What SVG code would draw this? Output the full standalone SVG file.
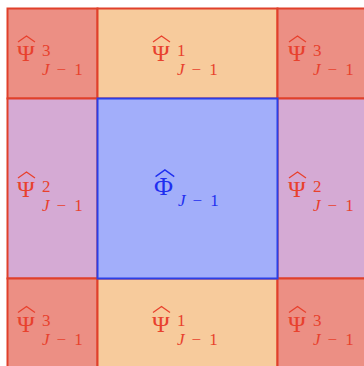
<svg xmlns="http://www.w3.org/2000/svg" width="364" height="366" viewBox="0 0 364 366">
<style>
rect{stroke-width:2}
.red{fill:#ec8f84;stroke:#e0402b}
.org{fill:#f7cb9c;stroke:#e0402b}
.pur{fill:#d5aad4;stroke:#e0402b}
.blu{fill:#a2aefa;stroke:#2b3fe6}
text{font-family:"Liberation Serif","DejaVu Serif",serif;font-size:17px}
.r{fill:#e8412d}
.b{fill:#1f2ff0}
.big{font-size:24px}
.phi{font-size:26px}
.it{font-style:italic}
.hr{fill:none;stroke:#e8412d;stroke-width:1.3;stroke-linejoin:miter}
.hb{fill:none;stroke:#1f2ff0;stroke-width:1.3;stroke-linejoin:miter}
</style>
<defs>
<polyline id="hat" points="0,6 8.5,0 17,6"/>
</defs>
<rect width="364" height="366" fill="#ffffff"/>
<g id="cell-top-left">
<rect class="red" x="7.5" y="8.5" width="90" height="90"/>
<text class="r big" x="17" y="61">Ψ</text>
<use href="#hat" class="hr" x="18" y="36"/>
<text class="r" x="42" y="55.5">3</text>
<text class="r" x="42" y="74.5"><tspan class="it">J</tspan><tspan dx="7">−</tspan><tspan dx="8">1</tspan></text>
</g>
<g id="cell-top-middle">
<rect class="org" x="97.5" y="8.5" width="180" height="90"/>
<text class="r big" x="152" y="61">Ψ</text>
<use href="#hat" class="hr" x="153" y="36"/>
<text class="r" x="177" y="55.5">1</text>
<text class="r" x="177" y="74.5"><tspan class="it">J</tspan><tspan dx="7">−</tspan><tspan dx="8">1</tspan></text>
</g>
<g id="cell-top-right">
<rect class="red" x="277.5" y="8.5" width="90" height="90"/>
<text class="r big" x="288" y="61">Ψ</text>
<use href="#hat" class="hr" x="289" y="36"/>
<text class="r" x="313" y="55.5">3</text>
<text class="r" x="313" y="74.5"><tspan class="it">J</tspan><tspan dx="7">−</tspan><tspan dx="8">1</tspan></text>
</g>
<g id="cell-middle-left">
<rect class="pur" x="7.5" y="98.5" width="90" height="180"/>
<text class="r big" x="17" y="197">Ψ</text>
<use href="#hat" class="hr" x="18" y="172"/>
<text class="r" x="42" y="191.5">2</text>
<text class="r" x="42" y="210.5"><tspan class="it">J</tspan><tspan dx="7">−</tspan><tspan dx="8">1</tspan></text>
</g>
<g id="cell-middle-right">
<rect class="pur" x="277.5" y="98.5" width="90" height="180"/>
<text class="r big" x="288" y="197">Ψ</text>
<use href="#hat" class="hr" x="289" y="172"/>
<text class="r" x="313" y="191.5">2</text>
<text class="r" x="313" y="210.5"><tspan class="it">J</tspan><tspan dx="7">−</tspan><tspan dx="8">1</tspan></text>
</g>
<g id="cell-bottom-left">
<rect class="red" x="7.5" y="278.5" width="90" height="90"/>
<text class="r big" x="17" y="331.5">Ψ</text>
<use href="#hat" class="hr" x="18" y="306.5"/>
<text class="r" x="42" y="326">3</text>
<text class="r" x="42" y="345"><tspan class="it">J</tspan><tspan dx="7">−</tspan><tspan dx="8">1</tspan></text>
</g>
<g id="cell-bottom-middle">
<rect class="org" x="97.5" y="278.5" width="180" height="90"/>
<text class="r big" x="152" y="331.5">Ψ</text>
<use href="#hat" class="hr" x="153" y="306.5"/>
<text class="r" x="177" y="326">1</text>
<text class="r" x="177" y="345"><tspan class="it">J</tspan><tspan dx="7">−</tspan><tspan dx="8">1</tspan></text>
</g>
<g id="cell-bottom-right">
<rect class="red" x="277.5" y="278.5" width="90" height="90"/>
<text class="r big" x="288" y="331.5">Ψ</text>
<use href="#hat" class="hr" x="289" y="306.5"/>
<text class="r" x="313" y="326">3</text>
<text class="r" x="313" y="345"><tspan class="it">J</tspan><tspan dx="7">−</tspan><tspan dx="8">1</tspan></text>
</g>
<g id="cell-center">
<rect class="blu" x="97.5" y="98.5" width="180" height="180"/>
<text class="b phi" x="154" y="195">Φ</text>
<use href="#hat" class="hb" x="155.5" y="170" transform="translate(-15.5,-17) scale(1.1,1.1)"/>
<text class="b" x="178" y="205.5"><tspan class="it">J</tspan><tspan dx="7">−</tspan><tspan dx="8">1</tspan></text>
</g>
<g id="connectors"></g>
</svg>
